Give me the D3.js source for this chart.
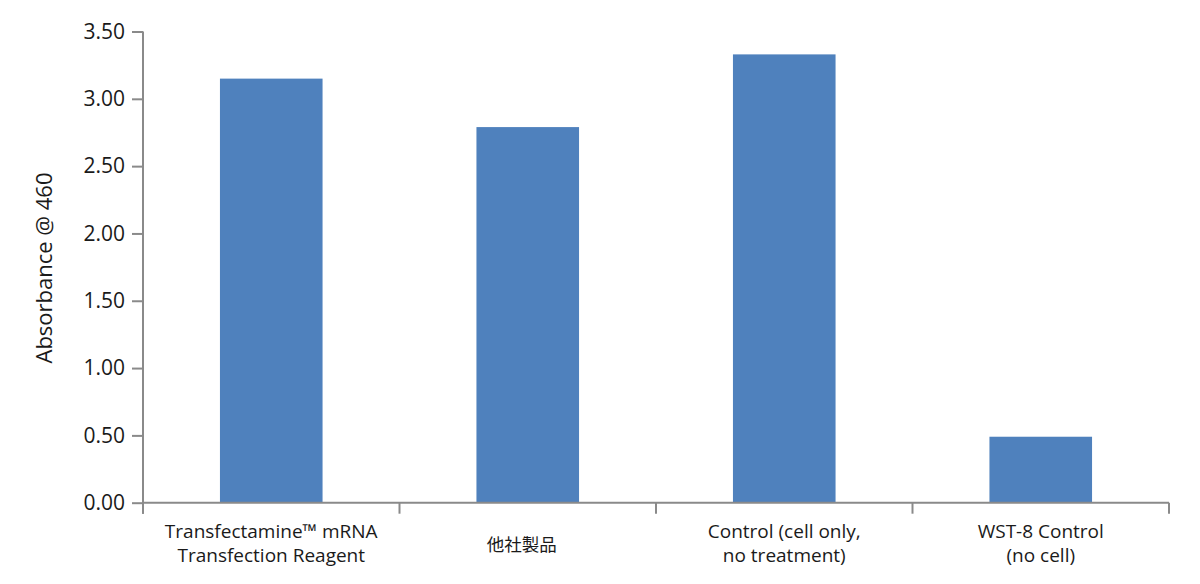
<!DOCTYPE html>
<html>
<head>
<meta charset="utf-8">
<script src="https://cdn.jsdelivr.net/npm/d3@7"></script>
<style>
  html, body { margin: 0; padding: 0; background: #fff; }
  svg { display: block; }
  text { font-family: "Open Sans", "Noto Sans CJK JP", sans-serif; fill: #1a1a1a; }
</style>
</head>
<body>
<svg id="chart" width="1200" height="584"></svg>
<script>
const categories = [
  "Transfectamine™ mRNA\nTransfection Reagent",
  "他社製品",
  "Control (cell only,\nno treatment)",
  "WST-8 Control\n(no cell)"
];
const values = [3.15, 2.79, 3.33, 0.49];
const yTicks = [0, 0.5, 1.0, 1.5, 2.0, 2.5, 3.0, 3.5];
const yLabel = "Absorbance @ 460";

const svg = d3.select("#chart");
const mLeft = 143, mRight = 1169, mTop = 31.5, mBottom = 502.7;

const x = d3.scaleBand().domain(categories).range([mLeft, mRight]).padding(0);
const y = d3.scaleLinear().domain([0, 3.5]).range([mBottom, mTop]);

const axisColor = "#8a8a8a";

// bars
const bw = x.bandwidth() * 0.4;
svg.append("g").selectAll("rect").data(categories).join("rect")
  .attr("x", d => x(d) + (x.bandwidth() - bw) / 2)
  .attr("y", (d, i) => y(values[i]))
  .attr("width", bw)
  .attr("height", (d, i) => y(0) - y(values[i]))
  .attr("fill", "#4f81bd");

// y axis
const yAxis = d3.axisLeft(y).tickValues(yTicks).tickFormat(d3.format(".2f")).tickSize(11).tickPadding(7);
const gy = svg.append("g").attr("transform", `translate(${mLeft},0)`).call(yAxis);
gy.select(".domain").remove();
gy.selectAll(".tick line").attr("stroke", axisColor).attr("stroke-width", 2);
gy.selectAll(".tick text").attr("font-size", 21).attr("font-family", "'Open Sans', sans-serif").attr("fill", "#1a1a1a");
svg.append("line").attr("x1", mLeft).attr("x2", mLeft).attr("y1", y(3.5)).attr("y2", mBottom + 11)
  .attr("stroke", axisColor).attr("stroke-width", 2);

// x axis line
svg.append("line").attr("x1", mLeft).attr("x2", mRight).attr("y1", mBottom).attr("y2", mBottom)
  .attr("stroke", axisColor).attr("stroke-width", 2);
// category boundary ticks
const bounds = categories.map(c => x(c)).concat([mRight]);
svg.append("g").selectAll("line").data(bounds).join("line")
  .attr("x1", d => d).attr("x2", d => d)
  .attr("y1", mBottom).attr("y2", mBottom + 11)
  .attr("stroke", axisColor).attr("stroke-width", 2);

// category labels
const lab = svg.append("g");
categories.forEach(c => {
  const lines = c.split("\n");
  const single = lines.length === 1;
  const cx = x(c) + x.bandwidth() / 2 + (single ? -6 : 0);
  const lh = 24;
  const base = 543 - (lines.length - 1) * lh / 2 + 7 + (single ? 1 : 0);
  const t = lab.append("text").attr("text-anchor", "middle").attr("font-size", single ? 17.5 : 19);
  lines.forEach((ln, i) => {
    t.append("tspan").attr("x", cx).attr("y", base + i * lh).text(ln);
  });
});

// y label
svg.append("text")
  .attr("transform", `translate(52,268) rotate(-90)`)
  .attr("text-anchor", "middle")
  .attr("font-size", 22)
  .text(yLabel);
</script>
</body>
</html>
